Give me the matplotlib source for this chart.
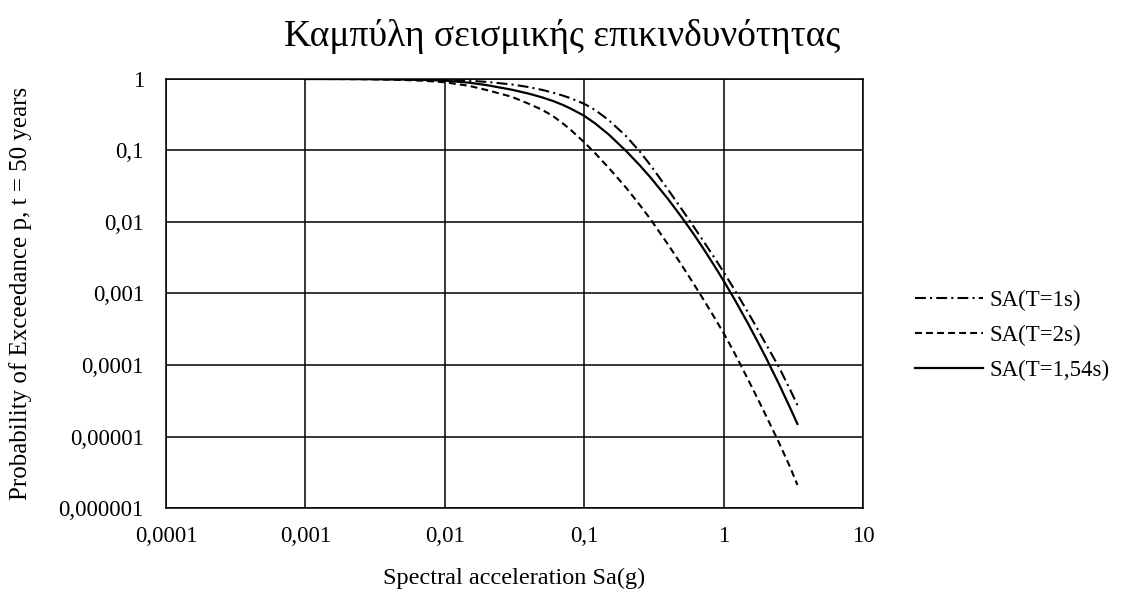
import numpy as np
import matplotlib.pyplot as plt
from matplotlib.ticker import FixedLocator, NullLocator

# values (log-log hazard curves)
sa = [0.001, 0.002, 0.003, 0.005, 0.007, 0.01, 0.015, 0.02, 0.03, 0.04, 0.05,
      0.06, 0.07, 0.08, 0.1, 0.12, 0.15, 0.2, 0.25, 0.3, 0.4, 0.5, 0.6, 0.7,
      0.85, 1, 1.2, 1.5, 1.75, 2, 2.5, 3, 3.38]

p_t1 = [1.0, 1.0, 0.999, 0.995, 0.99, 0.98, 0.944, 0.91, 0.84, 0.77, 0.703,
        0.642, 0.587, 0.537, 0.449, 0.367, 0.265, 0.158, 0.0968, 0.0614, 0.0282,
        0.0151, 0.009, 0.00575, 0.00325, 0.00199, 0.00112, 5.37e-4, 3.18e-4,
        1.99e-4, 9.2e-5, 4.5e-5, 2.74e-5]
p_t2 = [1.0, 0.997, 0.99, 0.97, 0.945, 0.90, 0.80, 0.70, 0.566, 0.45, 0.37,
        0.30, 0.24, 0.194, 0.13, 0.091, 0.057, 0.030, 0.0173, 0.0108, 0.0048,
        0.00249, 0.00143, 8.85e-4, 4.76e-4, 2.78e-4, 1.45e-4, 6.2e-5, 3.4e-5,
        2.0e-5, 8.1e-6, 3.7e-6, 2.1e-6]
p_t154 = [1.0, 0.998, 0.994, 0.982, 0.968, 0.95, 0.887, 0.82, 0.71, 0.624, 0.552,
          0.49, 0.435, 0.385, 0.305, 0.238, 0.167, 0.098, 0.062, 0.0415, 0.0208,
          0.01164, 0.00706, 0.00452, 0.00251, 0.0015, 8.2e-4, 3.75e-4, 2.13e-4,
          1.29e-4, 5.35e-5, 2.5e-5, 1.5e-5]

labels = ['SA(T=1s)', 'SA(T=2s)', 'SA(T=1,54s)']

x_ticks = [0.0001, 0.001, 0.01, 0.1, 1, 10]
x_ticklabels = ['0,0001', '0,001', '0,01', '0,1', '1', '10']
y_ticks = [1e-6, 1e-5, 1e-4, 1e-3, 1e-2, 1e-1, 1]
y_ticklabels = ['0,000001', '0,00001', '0,0001', '0,001', '0,01', '0,1', '1']

plt.rcParams['font.family'] = ['Liberation Serif', 'DejaVu Serif']

fig = plt.figure(figsize=(11.25, 5.89), dpi=100)
ax = fig.add_axes([0.1476, 0.1375, 0.6196, 0.7284])

ax.plot(sa, p_t1, color='black', lw=1.5, ls=(0, (5.2, 2, 1, 2)), label=labels[0])
ax.plot(sa, p_t2, color='black', lw=1.5, ls=(0, (3.3, 2)), label=labels[1])
ax.plot(sa, p_t154, color='black', lw=1.6, ls='-', label=labels[2])

ax.set_xscale('log')
ax.set_yscale('log')
ax.set_xlim(0.0001, 10)
ax.set_ylim(1e-6, 1)

ax.xaxis.set_major_locator(FixedLocator(x_ticks))
ax.yaxis.set_major_locator(FixedLocator(y_ticks))
ax.xaxis.set_minor_locator(NullLocator())
ax.yaxis.set_minor_locator(NullLocator())
ax.set_xticklabels(x_ticklabels, fontsize=16.5)
ax.set_yticklabels(y_ticklabels, fontsize=16.5)
ax.tick_params(axis='both', length=0)
ax.tick_params(axis='x', pad=13)
ax.tick_params(axis='y', pad=16)

ax.grid(True, color='black', lw=1.1)
for s in ax.spines.values():
    s.set_color('black')
    s.set_linewidth(1.1)

ax.set_xlabel('Spectral acceleration Sa(g)', fontsize=17.5, va='center')
ax.set_ylabel('Probability of Exceedance p, t = 50 years', fontsize=18, va='center')
ax.xaxis.set_label_coords(0.5, -0.163)
ax.yaxis.set_label_coords(-0.2095, 0.5)

fig.suptitle('Καμπύλη σεισμικής επικινδυνότητας', fontsize=27, x=0.5, y=0.968)

ax.legend(loc='center left', bbox_to_anchor=(0.813, 0.43), bbox_transform=fig.transFigure,
          frameon=False, fontsize=16.5, handlelength=3.0, handletextpad=0.25,
          labelspacing=0.6, borderpad=0, borderaxespad=0)

fig.savefig('out.png', dpi=100)
